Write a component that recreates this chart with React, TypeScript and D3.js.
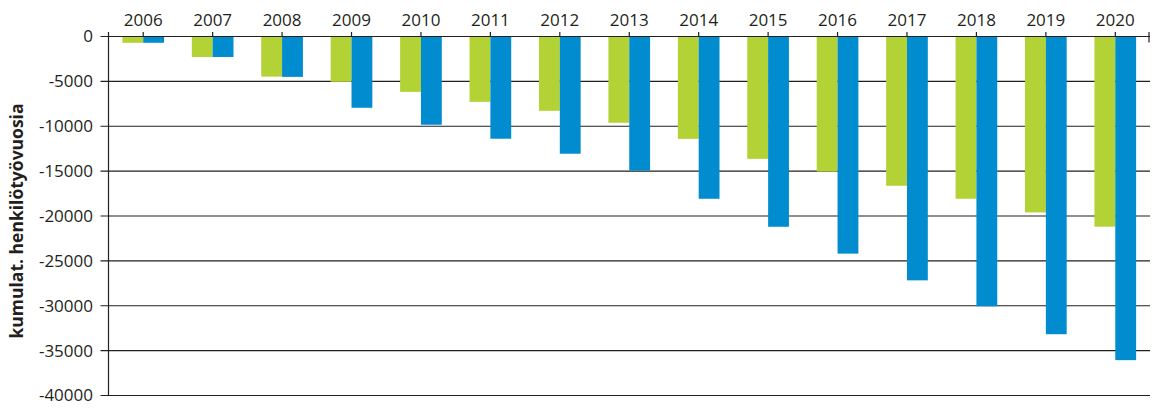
import React from "react";
import * as d3 from "d3";

const years = ["2006","2007","2008","2009","2010","2011","2012","2013","2014","2015","2016","2017","2018","2019","2020"];
const greenSeries = [-700, -2280, -4470, -5050, -6170, -7280, -8280, -9610, -11410, -13630, -15050, -16630, -18080, -19600, -21190];
const blueSeries = [-700, -2280, -4500, -7940, -9830, -11390, -13060, -14940, -18080, -21200, -24190, -27170, -30060, -33170, -36060];
const yTicks = [0, -5000, -10000, -15000, -20000, -25000, -30000, -35000, -40000];
const yLabel = "kumulat. henkilötyövuosia";

const W = 1167, H = 412;
const left = 108.5, right = 1150, top = 36.5, bottom = 395.5;
const font = "'Open Sans', sans-serif";
const ink = "#231f20";

export default function App() {
  const x = d3.scaleBand<string>().domain(years).range([left, right]).padding(0);
  const y = d3.scaleLinear().domain([0, -40000]).range([top, bottom]);
  const bw = x.bandwidth() * 0.3;
  return (
    <svg width={W} height={H} style={{ position: "absolute", left: 0, top: 0 }} fontFamily={font}>
      <rect width={W} height={H} fill="#fff" />
      {yTicks.map((t) => (
        <g key={t}>
          <line x1={left - 8} x2={right} y1={y(t)} y2={y(t)} stroke={ink} strokeWidth={1.2} />
          <text x={93} y={y(t)} dy="0.35em" textAnchor="end" fontSize={17} fill={ink}>{t}</text>
        </g>
      ))}
      {years.map((yr, i) => {
        const c = (x(yr) as number) + x.bandwidth() / 2;
        return (
          <g key={yr}>
            <rect x={c - bw} y={y(0)} width={bw} height={y(greenSeries[i]) - y(0)} fill="#b2d235" />
            <rect x={c} y={y(0)} width={bw} height={y(blueSeries[i]) - y(0)} fill="#008ccf" />
            <line x1={c} x2={c} y1={top - 4.5} y2={top} stroke={ink} strokeWidth={1.2} />
            <text x={c} y={26} textAnchor="middle" fontSize={17} fill={ink}>{yr}</text>
          </g>
        );
      })}
      <line x1={left} x2={right} y1={top} y2={top} stroke={ink} strokeWidth={1.2} />
      <line x1={left} x2={left} y1={top - 4.5} y2={bottom} stroke={ink} strokeWidth={1.2} />
      <line x1={right - 1} x2={right - 1} y1={top - 4.5} y2={top + 6} stroke={ink} strokeWidth={1.2} />
      <text transform={`translate(23,221) rotate(-90)`} textAnchor="middle" fontSize={17.5} fontWeight="bold" fill={ink}>{yLabel}</text>
    </svg>
  );
}
